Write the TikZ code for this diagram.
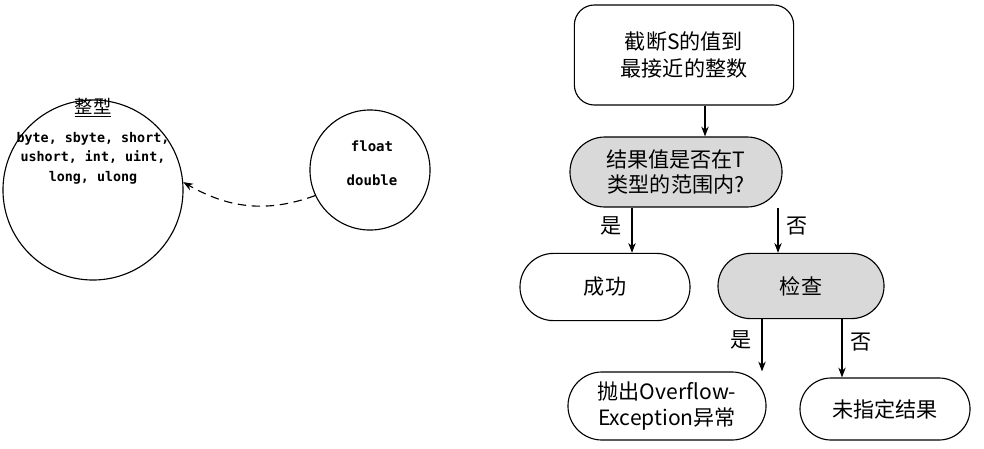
\documentclass[tikz,border=0pt]{standalone}
\usepackage{fontspec}
\newfontfamily\cjk{Noto Sans CJK SC}
\setmonofont{DejaVu Sans Mono}
\usetikzlibrary{shapes.misc,arrows.meta,patterns}
\tikzset{
  pill/.style={draw, thick, rounded rectangle, font=\cjk\fontsize{15}{18}\selectfont, align=center, inner sep=0pt},
  grey/.style={fill=gray!30},
  flow/.style={->, thick, >={Stealth[length=7pt]}},
  lbl/.style={font=\cjk\fontsize{15}{18}\selectfont}
}
\begin{document}
\begin{tikzpicture}[x=0.025cm, y=-0.025cm]
\useasboundingbox (0,0) rectangle (984,448);

% left part
\node (int) [draw, thick, circle, minimum size=4.5cm] at (93,190) {};
\node (intT) at (93,108) {\cjk\fontsize{13}{15}\selectfont\underline{整型}};
\node (intL) [font=\ttfamily\bfseries\fontsize{9.5}{14}\selectfont, align=center] at (93,158) {byte, sbyte, short,\\ushort, int, uint,\\long, ulong};
\node (flt) [draw, thick, circle, minimum size=3cm] at (370,170) {};
\node (fltL) [font=\ttfamily\bfseries\fontsize{10}{12}\selectfont, align=center] at (372,163) {float\\[12pt]double};
\draw [->, thick, dashed, dash pattern=on 6pt off 4pt, >={Stealth[length=7pt]}] (flt.205) to[out=200, in=-30] (int.5);

% right part
\node (trunc) [draw, thick, rounded corners=0.5cm, minimum width=5.48cm, minimum height=2.5cm, font=\cjk\fontsize{15}{19}\selectfont, align=center] at (684,55) {截断S的值到\\最接近的整数};
\node (range) [pill, grey, minimum width=5.3cm, minimum height=1.75cm] at (676,172) {结果值是否在T\\类型的范围内?};
\node (ok) [pill, minimum width=4.25cm, minimum height=1.68cm] at (605,287) {成功};
\node (chk) [pill, grey, minimum width=4.15cm, minimum height=1.63cm] at (801,286) {检查};
\node (exc) [pill, minimum width=4.95cm, minimum height=1.7cm] at (667,406) {抛出Overflow-\\Exception异常};
\node (uns) [pill, minimum width=4.25cm, minimum height=1.55cm] at (885,409) {未指定结果};

\draw [flow] (trunc.south -| 705,0) -- (range.north -| 705,0);
\draw [flow] (range.south -| 632,0) -- (ok.north -| 632,0) node [lbl, pos=0.4, left=4pt] {是};
\draw [flow] (range.south -| 778,0) -- (chk.north -| 778,0) node [lbl, pos=0.4, right=2pt] {否};
\draw [flow] (chk.south -| 762,0) -- (exc.north -| 762,0) node [lbl, pos=0.4, left=4pt] {是};
\draw [flow] (chk.south -| 842,0) -- (uns.north -| 842,0) node [lbl, pos=0.4, right=2pt] {否};
\end{tikzpicture}
\end{document}
